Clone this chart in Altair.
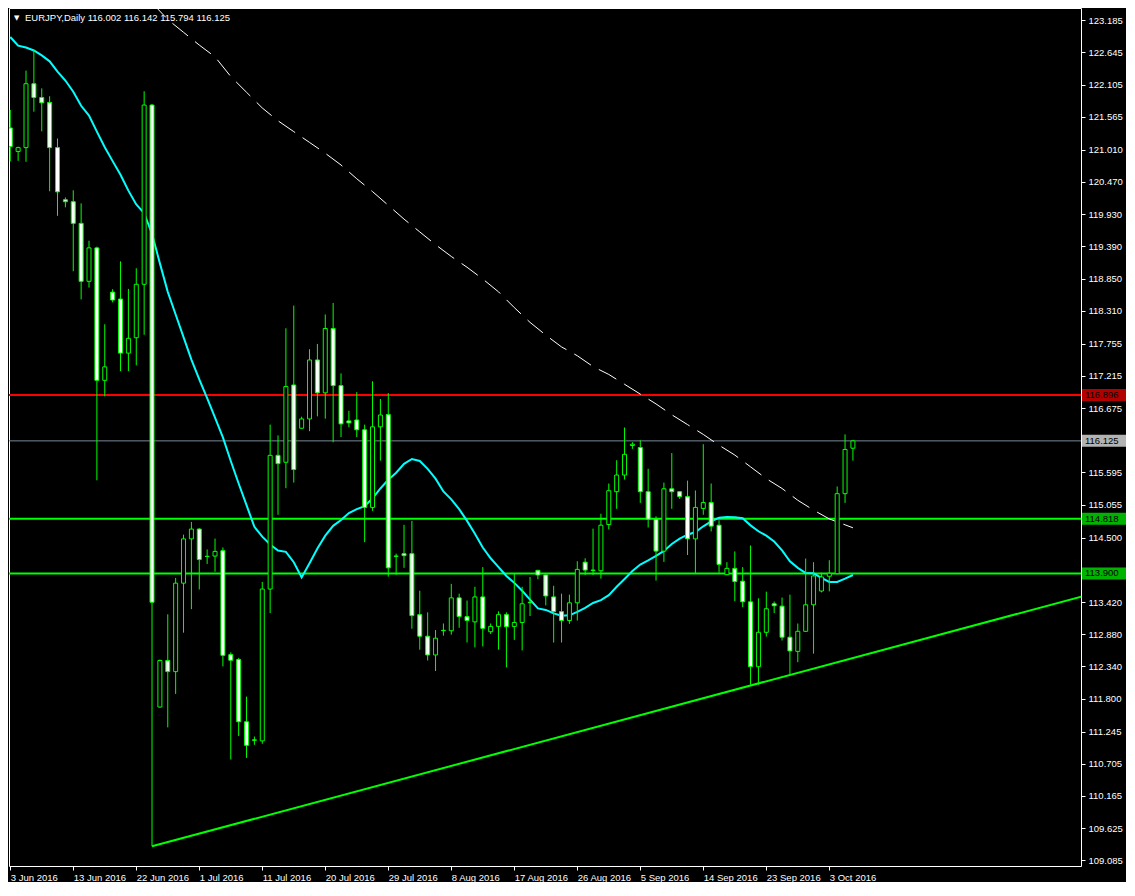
import json
import altair as alt
import pandas as pd

# ---------------- data ----------------
opens = [121.377, 120.981, 121.047, 122.119, 121.888, 121.805, 121.047, 120.172, 120.139, 119.776,
         118.803, 119.364, 117.141, 118.621, 118.506, 117.598, 117.856, 118.753, 121.761, 111.658,
         112.439, 112.252, 113.737, 114.480, 114.645, 114.188, 114.192, 114.282, 112.538, 112.455,
         111.411, 111.107, 111.090, 113.638, 115.882, 115.766, 117.063, 116.337, 116.493, 117.483,
         116.931, 118.011, 117.053, 116.460, 116.476, 116.311, 115.008, 116.361, 116.568, 114.192,
         114.232, 114.232, 113.209, 112.846, 112.532, 112.945, 112.938, 113.490, 113.176, 113.087,
         113.506, 112.922, 113.011, 113.209, 113.011, 113.077, 113.417, 113.952, 113.874, 113.506,
         113.259, 113.110, 113.407, 114.089, 113.957, 113.945, 114.721, 115.272, 115.552, 116.047,
         116.014, 115.272, 114.810, 114.275, 115.321, 115.272, 115.189, 114.480, 114.991, 115.090,
         114.710, 113.879, 113.985, 113.770, 113.424, 112.335, 112.912, 113.391, 113.351, 112.830,
         112.592, 112.929, 113.374, 113.605, 113.853, 113.896, 115.239, 116.002]
highs = [121.679, 121.063, 122.339, 122.685, 122.041, 121.909, 121.200, 120.210, 120.330, 120.111,
         119.484, 119.385, 118.082, 118.671, 119.138, 118.676, 119.022, 121.992, 121.780, 112.455,
         113.214, 113.825, 114.551, 114.765, 114.660, 114.303, 114.485, 114.336, 112.576, 112.483,
         111.833, 111.163, 113.758, 116.398, 116.217, 118.015, 118.395, 116.531, 117.664, 117.752,
         118.247, 118.440, 117.257, 116.630, 116.943, 116.398, 117.125, 116.828, 116.927, 114.232,
         114.716, 114.782, 113.610, 113.247, 112.950, 113.060, 113.725, 113.560, 113.445, 113.676,
         114.006, 113.060, 113.264, 113.247, 113.907, 113.676, 113.841, 113.960, 113.880, 113.693,
         113.560, 113.544, 114.105, 114.155, 114.653, 114.902, 115.409, 115.800, 116.349, 116.102,
         116.135, 115.656, 114.859, 115.425, 115.920, 115.280, 115.458, 115.293, 116.069, 115.409,
         114.793, 114.089, 114.270, 114.006, 114.369, 113.483, 113.594, 113.429, 113.495, 113.544,
         113.060, 114.150, 114.089, 113.912, 114.122, 115.359, 116.234, 116.142]
lows = [120.816, 120.825, 120.809, 121.650, 121.320, 120.314, 119.902, 120.045, 118.972, 118.499,
        118.697, 115.463, 116.872, 118.449, 117.295, 117.295, 117.394, 117.905, 109.320, 111.650,
        111.317, 111.878, 112.906, 113.301, 113.631, 114.060, 113.928, 112.340, 110.777, 111.173,
        110.805, 111.024, 111.041, 113.235, 114.885, 115.331, 115.425, 116.330, 116.288, 116.536,
        116.498, 116.102, 116.189, 116.354, 116.189, 114.424, 114.951, 115.793, 113.846, 113.879,
        113.994, 112.972, 112.620, 112.439, 112.262, 112.856, 112.872, 112.988, 112.741, 112.658,
        112.675, 112.884, 112.620, 112.323, 112.785, 112.608, 113.186, 113.803, 113.363, 112.741,
        112.741, 113.054, 113.110, 113.874, 113.874, 113.813, 114.638, 114.985, 115.475, 115.991,
        115.084, 114.671, 113.780, 114.094, 114.985, 115.150, 114.209, 113.896, 114.885, 114.605,
        113.912, 113.870, 113.434, 113.335, 112.031, 112.031, 112.840, 113.236, 112.774, 112.208,
        112.411, 112.917, 112.554, 113.582, 113.599, 113.890, 115.084, 115.794]
closes = [121.063, 121.047, 122.119, 121.888, 121.799, 121.047, 120.304, 120.139, 119.776, 118.803,
          119.364, 117.141, 117.367, 118.489, 117.598, 117.846, 118.753, 121.761, 113.417, 112.439,
          112.252, 113.737, 114.480, 114.645, 114.133, 114.185, 114.270, 112.526, 112.443, 111.411,
          111.015, 111.100, 113.638, 115.882, 115.743, 117.037, 115.644, 116.493, 117.483, 116.931,
          118.011, 117.053, 116.410, 116.427, 116.311, 115.008, 116.361, 116.559, 113.994, 114.188,
          114.199, 113.192, 112.846, 112.532, 112.813, 112.940, 113.490, 113.176, 113.110, 113.506,
          112.978, 113.011, 113.209, 113.005, 113.077, 113.391, 113.410, 113.874, 113.522, 113.259,
          113.110, 113.407, 113.968, 113.957, 113.950, 114.710, 115.288, 115.552, 115.899, 116.069,
          115.272, 114.810, 114.275, 115.321, 115.272, 115.189, 114.480, 115.008, 115.090, 114.694,
          114.051, 113.985, 113.764, 113.424, 112.335, 112.912, 113.308, 113.358, 112.830, 112.599,
          112.929, 113.374, 113.858, 113.841, 113.902, 115.239, 115.981, 116.125]

# fast moving average (cyan), one value per bar
ma_fast = [122.904, 122.759, 122.726, 122.677, 122.594, 122.495, 122.322, 122.173, 121.984, 121.749,
           121.584, 121.315, 121.052, 120.820, 120.590, 120.325, 120.094, 119.946, 119.600, 119.104,
           118.626, 118.246, 117.867, 117.488, 117.158, 116.844, 116.514, 116.184, 115.788, 115.409,
           115.046, 114.683, 114.518, 114.385, 114.286, 114.262, 114.089, 113.833, 114.072, 114.320,
           114.534, 114.699, 114.798, 114.914, 114.980, 115.029, 115.161, 115.326, 115.474, 115.590,
           115.739, 115.821, 115.788, 115.656, 115.491, 115.276, 115.144, 114.980, 114.782, 114.567,
           114.336, 114.155, 114.006, 113.858, 113.742, 113.610, 113.461, 113.313, 113.288, 113.230,
           113.189, 113.197, 113.255, 113.321, 113.404, 113.453, 113.536, 113.676, 113.808, 113.940,
           114.050, 114.121, 114.196, 114.278, 114.394, 114.484, 114.550, 114.595, 114.691, 114.773,
           114.836, 114.847, 114.842, 114.826, 114.707, 114.608, 114.534, 114.435, 114.286, 114.105,
           113.994, 113.907, 113.902, 113.825, 113.758, 113.758, 113.813, 113.874]

# slow moving average (white dashed), sampled bars
ma_slow_bar = [18, 20, 22, 24, 26, 28, 30, 32, 34, 36, 38, 40, 42, 44, 46, 48, 50, 52, 54, 56,
               58, 60, 62, 64, 66, 68, 70, 72, 74, 76, 78, 80, 82, 84, 86, 88, 90, 92, 94, 96,
               98, 100, 102, 104, 106, 107]
ma_slow = [123.477, 123.196, 122.982, 122.768, 122.570, 122.240, 121.976, 121.712, 121.497, 121.315,
           121.134, 120.952, 120.755, 120.524, 120.309, 120.078, 119.847, 119.632, 119.418, 119.220,
           119.039, 118.841, 118.626, 118.362, 118.114, 117.900, 117.702, 117.554, 117.372, 117.240,
           117.075, 116.910, 116.745, 116.563, 116.398, 116.233, 116.052, 115.887, 115.689, 115.491,
           115.326, 115.128, 114.963, 114.815, 114.716, 114.666]

# rising trend line (bar index, price)
trend_bar = [18, 136]
trend_price = [109.320, 113.511]

# horizontal levels
level_price = [116.896, 114.818, 113.900]
level_color = ["#FF0000", "#00FF00", "#00FF00"]
bid_price = 116.125

# axis labels
date_ticks = [0, 8, 16, 24, 32, 40, 48, 56, 64, 72, 80, 88, 96, 104]
date_labels = ["3 Jun 2016", "13 Jun 2016", "22 Jun 2016", "1 Jul 2016", "11 Jul 2016",
               "20 Jul 2016", "29 Jul 2016", "8 Aug 2016", "17 Aug 2016", "26 Aug 2016",
               "5 Sep 2016", "14 Sep 2016", "23 Sep 2016", "3 Oct 2016"]
price_ticks = [123.185, 122.645, 122.105, 121.565, 121.010, 120.470, 119.930, 119.390, 118.850,
               118.310, 117.755, 117.215, 116.675, 115.595, 115.055, 114.500, 113.420, 112.880,
               112.340, 111.800, 111.245, 110.705, 110.165, 109.625, 109.085]

header = "EURJPY,Daily  116.002 116.142 115.794 116.125"

# ---------------- layout ----------------
W, H = 1072, 858
X_DOMAIN = [-0.16, 135.96]
Y_DOMAIN = [108.99, 123.39]
LIME = "#00FF00"
FONT = "Liberation Sans"
FS = 9.5

label_expr = f"{json.dumps(date_labels)}[indexof({json.dumps(date_ticks)}, datum.value)]"
x_axis = alt.Axis(values=date_ticks, labelExpr=label_expr, labelAlign="left", labelPadding=2,
                  tickSize=4, domain=False, grid=False, title=None, labelOverlap=False,
                  labelBound=False, labelFlush=False)
y_axis = alt.Axis(orient="right", values=price_ticks, format=".3f", tickSize=4, domain=False,
                  grid=False, title=None, labelOverlap=False, labelPadding=3)


def X(field):
    return alt.X(f"{field}:Q",
                 scale=alt.Scale(domain=X_DOMAIN, nice=False, zero=False, padding=0),
                 axis=x_axis)


def Y(field):
    return alt.Y(f"{field}:Q",
                 scale=alt.Scale(domain=Y_DOMAIN, nice=False, zero=False, padding=0),
                 axis=y_axis)


n = len(opens)
candles = pd.DataFrame({
    "i": list(range(n)), "o": opens, "h": highs, "l": lows, "c": closes,
})
candles["lo"] = candles[["o", "c"]].min(axis=1)
candles["hi"] = candles[["o", "c"]].max(axis=1)
candles["fill"] = ["black" if c >= o else "white" for o, c in zip(opens, closes)]

fast_df = pd.DataFrame({"i": list(range(n)), "p": ma_fast})
slow_df = pd.DataFrame({"i": ma_slow_bar, "p": ma_slow})
trend_df = pd.DataFrame({"i": trend_bar, "p": trend_price})
levels_df = pd.DataFrame({"p": level_price, "col": level_color,
                          "txt": [f"{v:.3f}" for v in level_price]})
bid_df = pd.DataFrame({"p": [bid_price], "col": ["white"], "txt": [f"{bid_price:.3f}"]})
boxes_df = pd.concat([levels_df, bid_df], ignore_index=True)

levels = alt.Chart(levels_df).mark_rule(strokeWidth=2).encode(
    y=Y("p"), color=alt.Color("col:N", scale=None))
bid = alt.Chart(bid_df).mark_rule(strokeWidth=1, color="#778899").encode(y=Y("p"))
trend = alt.Chart(trend_df).mark_line(color=LIME, strokeWidth=2, clip=True).encode(
    x=X("i"), y=Y("p"))
fast = alt.Chart(fast_df).mark_line(color="#00FFFF", strokeWidth=2, clip=True).encode(
    x=X("i"), y=Y("p"))
slow = alt.Chart(slow_df).mark_line(color="white", strokeWidth=1, strokeDash=[20, 9],
                                    clip=True).encode(x=X("i"), y=Y("p"))
wicks = alt.Chart(candles).mark_rule(color=LIME, strokeWidth=1, clip=True).encode(
    x=X("i"), y=Y("l"), y2="h")
bodies = alt.Chart(candles).mark_bar(width=4, stroke=LIME, strokeWidth=1, clip=True).encode(
    x=X("i"), y=Y("lo"), y2="hi", fill=alt.Fill("fill:N", scale=None))

boxes = alt.Chart(boxes_df).mark_tick(orient="horizontal", thickness=12, size=44).encode(
    x=alt.value(W + 23), y=Y("p"), color=alt.Color("col:N", scale=None))
box_text = alt.Chart(boxes_df).mark_text(align="left", baseline="middle", font=FONT,
                                         fontSize=FS, color="black").encode(
    x=alt.value(W + 4), y=Y("p"), text="txt:N")

tri = alt.Chart(pd.DataFrame({"t": ["\u25BC"]})).mark_text(
    align="left", baseline="middle", font="DejaVu Sans", fontSize=7, color="white").encode(
    x=alt.value(5), y=alt.value(10), text="t:N")
head = alt.Chart(pd.DataFrame({"t": [header]})).mark_text(
    align="left", baseline="middle", font=FONT, fontSize=FS, color="white").encode(
    x=alt.value(16), y=alt.value(10), text="t:N")

chart = alt.layer(levels, bid, trend, slow, fast, wicks, bodies, boxes, box_text, tri, head).properties(
    width=W, height=H, background="black", padding=0
).configure_view(
    stroke="white", strokeWidth=1, fill="black"
).configure_axis(
    labelColor="white", tickColor="white", labelFont=FONT, labelFontSize=FS
)

chart.save("out.html", embed_options={"renderer": "svg", "actions": False})
